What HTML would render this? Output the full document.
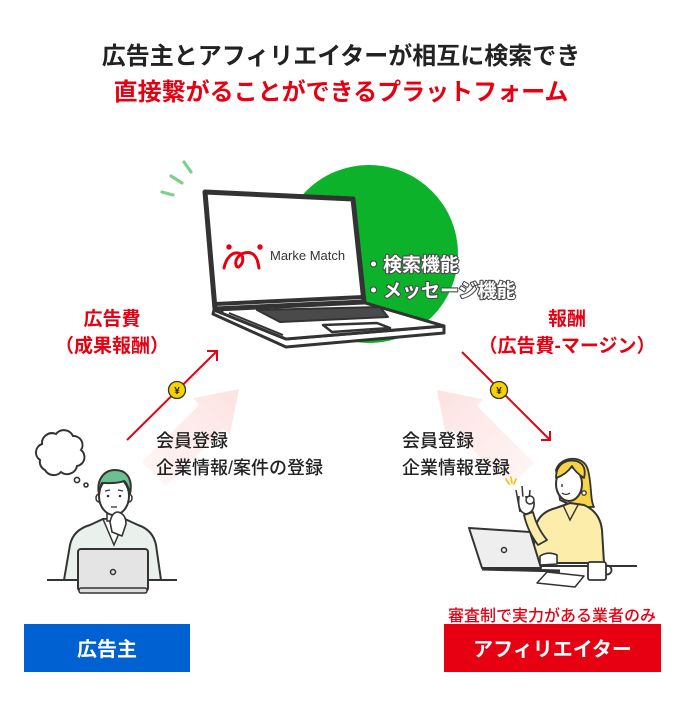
<!DOCTYPE html>
<html><head><meta charset="utf-8">
<style>
html,body{margin:0;padding:0;background:#fff;}
svg{display:block;}
text{font-family:"Liberation Sans","Noto Sans CJK JP",sans-serif;}
</style></head>
<body>
<svg width="686" height="712" viewBox="0 0 686 712" xmlns="http://www.w3.org/2000/svg">
<defs>
  <linearGradient id="gl" gradientUnits="userSpaceOnUse" x1="154" y1="474" x2="239" y2="389">
    <stop offset="0" stop-color="#fff4f4"/><stop offset="1" stop-color="#fde2e2"/>
  </linearGradient>
  <linearGradient id="gr" gradientUnits="userSpaceOnUse" x1="522" y1="475" x2="437" y2="390">
    <stop offset="0" stop-color="#fff4f4"/><stop offset="1" stop-color="#fde2e2"/>
  </linearGradient>
</defs>

<!-- Title -->
<text x="341" y="64" font-size="24" font-weight="700" fill="#222" text-anchor="middle">広告主とアフィリエイターが相互に検索でき</text>
<text x="341" y="100" font-size="24" font-weight="700" fill="#e60012" text-anchor="middle">直接繋がることができるプラットフォーム</text>

<!-- green accent strokes -->
<g stroke="#7dcf8e" stroke-width="3.2" stroke-linecap="round">
  <line x1="184" y1="162" x2="191" y2="172"/>
  <line x1="171" y1="176" x2="182" y2="183"/>
  <line x1="162" y1="192" x2="173" y2="195"/>
</g>

<!-- green circle -->
<circle cx="369" cy="254" r="89" fill="#0db22b"/>

<!-- Laptop base -->
<path d="M214,310 L286,339 L444,326 L444,333 L286,347 L213,314 Z" fill="#fff" stroke="#333" stroke-width="3" stroke-linejoin="round"/>
<path d="M214,310 L362,302 L444,326 L286,339 Z" fill="#fff" stroke="#333" stroke-width="3" stroke-linejoin="round"/>
<line x1="229" y1="313" x2="283" y2="335" stroke="#333" stroke-width="2"/>
<circle cx="222" cy="312" r="1.5" fill="#333"/>
<path d="M257,310 L380,307 L388,317 L280,322 Z" fill="#4a4a4a" stroke="#333" stroke-width="2" stroke-linejoin="round"/>
<path d="M323,325 L377,323 L390,328 L332,332 Z" fill="#fff" stroke="#333" stroke-width="2.5" stroke-linejoin="round"/>
<!-- Laptop screen -->
<path d="M205,192 L353,199 L364,302 L215,309 Z" fill="#fff" stroke="#333" stroke-width="5" stroke-linejoin="round"/>
<line x1="215" y1="304" x2="363" y2="297" stroke="#333" stroke-width="4"/>

<!-- logo -->
<circle cx="229" cy="247" r="2.7" fill="#e60012"/>
<circle cx="260" cy="247" r="2.7" fill="#e60012"/>
<path d="M224,268 C226,258 232,252 238,253 C244,254 244,262 240,266 C236,270 234,262 238,257 C242,252 250,251 254,255 C258,259 258,264 259,268" fill="none" stroke="#e60012" stroke-width="3" stroke-linecap="round"/>
<text x="270" y="260" font-size="13" fill="#333" font-family="Liberation Sans, sans-serif">Marke Match</text>

<!-- features -->
<g font-size="19" font-weight="700" fill="#fff" stroke="#4a4a4a" stroke-width="2.2" paint-order="stroke" stroke-linejoin="round">
  <text x="364" y="271">・検索機能</text>
  <text x="364" y="297">・メッセージ機能</text>
</g>

<!-- pink arrows -->
<polygon points="239,389 229.8,435 223.4,428.6 166,486 142,462 199.4,404.6 193,398.2" fill="url(#gl)"/>
<polygon points="437,390 483,399.2 476.6,405.6 534,463 510,487 452.6,429.6 446.2,436" fill="url(#gr)"/>

<!-- red labels -->
<g font-size="19" font-weight="700" fill="#e60012" text-anchor="middle">
  <text x="112" y="325">広告費</text>
  <text x="112" y="352">（成果報酬）</text>
  <text x="567" y="325">報酬</text>
  <text x="567" y="352">（広告費-マージン）</text>
</g>

<!-- red arrows -->
<g stroke="#e60012" stroke-width="2" fill="none">
  <line x1="127" y1="440" x2="217" y2="351"/>
  <polyline points="207,351 217,351 217,361"/>
  <line x1="462" y1="352" x2="550" y2="440"/>
  <polyline points="541,440 550,440 550,431"/>
</g>

<!-- coins -->
<g>
  <circle cx="177" cy="390" r="8.5" fill="#f6d200" stroke="#333" stroke-width="1.3"/>
  <text x="177" y="394" font-size="10" font-weight="700" fill="#222" text-anchor="middle">¥</text>
  <circle cx="499" cy="390" r="8.5" fill="#f6d200" stroke="#333" stroke-width="1.3"/>
  <text x="499" y="394" font-size="10" font-weight="700" fill="#222" text-anchor="middle">¥</text>
</g>

<!-- side texts -->
<g font-size="18" font-weight="500" fill="#222">
  <text x="156" y="447">会員登録</text>
  <text x="156" y="474">企業情報/案件の登録</text>
  <text x="402" y="447">会員登録</text>
  <text x="402" y="474">企業情報登録</text>
</g>

<!-- Man -->
<path d="M40,460 a9,9 0 0 1 2,-16 a10,10 0 0 1 14,-10 a10,10 0 0 1 17,2 a9,9 0 0 1 8,14 a9,9 0 0 1 -4,16 a10,10 0 0 1 -16,6 a10,10 0 0 1 -16,-2 a9,9 0 0 1 -5,-10 z" fill="#fff" stroke="#333" stroke-width="2"/>
<circle cx="77" cy="480" r="2.6" fill="#fff" stroke="#333" stroke-width="1.6"/>
<circle cx="86" cy="485" r="2" fill="#fff" stroke="#333" stroke-width="1.6"/>
<path d="M64,580 L70,545 Q73,530 90,525 L103,519 L125,519 L138,525 Q153,530 156,545 L161,580 Z" fill="#eaf0eb" stroke="#333" stroke-width="2" stroke-linejoin="round"/>
<path d="M103,519 L114,545 L125,519 Z" fill="#fff" stroke="#333" stroke-width="1.5"/>
<rect x="107" y="507" width="14" height="14" fill="#fff" stroke="#333" stroke-width="1.5"/>
<ellipse cx="99" cy="498" rx="3" ry="4" fill="#fff" stroke="#333" stroke-width="1.5"/>
<ellipse cx="129" cy="498" rx="3" ry="4" fill="#fff" stroke="#333" stroke-width="1.5"/>
<ellipse cx="114" cy="496" rx="15" ry="19" fill="#fff" stroke="#333" stroke-width="2"/>
<path d="M99,494 C96,480 104,470 115,470 C127,470 133,479 130,494 C128,486 126,482 124,481 C117,484 106,483 102,483 C100,486 100,490 99,494 Z" fill="#6cbf8e" stroke="#333" stroke-width="2" stroke-linejoin="round"/>
<circle cx="108" cy="496" r="1.3" fill="#333"/>
<circle cx="120" cy="496" r="1.3" fill="#333"/>
<line x1="105" y1="491" x2="110" y2="490" stroke="#333" stroke-width="1.2"/>
<line x1="118" y1="490" x2="123" y2="491" stroke="#333" stroke-width="1.2"/>
<line x1="111" y1="507" x2="117" y2="507" stroke="#333" stroke-width="1.3"/>
<path d="M110,522 Q112,512 118,512 Q126,514 126,524 L122,536 L112,532 Z" fill="#fff" stroke="#333" stroke-width="1.6" stroke-linejoin="round"/>
<line x1="47" y1="580" x2="177" y2="580" stroke="#333" stroke-width="2"/>
<rect x="78" y="549" width="70" height="42" rx="3" fill="#e4e4e4" stroke="#333" stroke-width="2"/>
<rect x="79" y="588" width="68" height="5" rx="2" fill="#ddd" stroke="#333" stroke-width="1.5"/>
<circle cx="113" cy="572" r="2.5" fill="none" stroke="#333" stroke-width="1.5"/>

<!-- Woman -->
<g stroke="#f2c400" stroke-width="1.6" stroke-linecap="round">
  <line x1="506" y1="479" x2="509" y2="484"/>
  <line x1="511" y1="477" x2="512" y2="483"/>
  <line x1="516" y1="479" x2="514" y2="484"/>
</g>
<path d="M556,470 C560,456 584,454 588,470 C592,485 590,500 594,507 L575,507 L560,500 Z" fill="#f7d447" stroke="#333" stroke-width="1.8" stroke-linejoin="round"/>
<path d="M532,563 L536,525 Q540,512 556,508 L570,503 L584,505 Q600,512 602,530 L604,563 Z" fill="#fcedaa" stroke="#333" stroke-width="2" stroke-linejoin="round"/>
<path d="M563,505 L570,520 L578,505" fill="none" stroke="#333" stroke-width="1.4"/>
<ellipse cx="569" cy="484" rx="13" ry="17" fill="#fff" stroke="#333" stroke-width="2"/>
<path d="M556,478 C556,464 566,459 576,461 C584,463 586,470 584,478 C578,474 574,470 572,466 C568,472 562,476 556,478 Z" fill="#f7d447" stroke="#333" stroke-width="1.8" stroke-linejoin="round"/>
<circle cx="584" cy="493" r="2.2" fill="#fff" stroke="#333" stroke-width="1.3"/>
<line x1="562" y1="484" x2="562" y2="487" stroke="#333" stroke-width="1.4"/>
<path d="M562,493 Q566,496 570,493" fill="none" stroke="#333" stroke-width="1.3"/>
<path d="M538,545 Q528,532 524,515 L533,512 Q537,528 547,540 Z" fill="#fcedaa" stroke="#333" stroke-width="1.8" stroke-linejoin="round"/>
<path d="M520,512 L516,490 M524,510 L522,486 M528,511 L530,490" stroke="#333" stroke-width="1.5" fill="none"/>
<path d="M519,496 Q517,512 526,514 Q535,512 534,502 Q531,496 525,497" fill="#fff" stroke="#333" stroke-width="1.6"/>
<circle cx="530" cy="500" r="4" fill="#fff" stroke="#333" stroke-width="1.5"/>
<line x1="536" y1="566" x2="637" y2="566" stroke="#333" stroke-width="2"/>
<polygon points="469,528 530,532 541,568 482,568" fill="#eee" stroke="#333" stroke-width="2" stroke-linejoin="round"/>
<circle cx="504" cy="550" r="2.5" fill="none" stroke="#333" stroke-width="1.5"/>
<line x1="482" y1="569" x2="560" y2="571" stroke="#333" stroke-width="3"/>
<path d="M540,556 Q548,551 557,555 L557,564 L540,565 Z" fill="#fff" stroke="#333" stroke-width="1.6" stroke-linejoin="round"/>
<polygon points="547,572 584,576 575,587 537,583" fill="#fff" stroke="#333" stroke-width="1.5" stroke-linejoin="round"/>
<circle cx="607" cy="570" r="4.5" fill="none" stroke="#333" stroke-width="1.8"/>
<rect x="588" y="562" width="18" height="18" rx="2" fill="#fff" stroke="#333" stroke-width="1.8"/>

<!-- bottom -->
<text x="552" y="621" font-size="16" font-weight="500" fill="#e60012" text-anchor="middle">審査制で実力がある業者のみ</text>
<rect x="24" y="624" width="166" height="48" fill="#0062d2"/>
<text x="107" y="656" font-size="20" font-weight="700" fill="#fff" text-anchor="middle">広告主</text>
<rect x="444" y="624" width="217" height="48" fill="#e60012"/>
<text x="552.5" y="656" font-size="20" font-weight="700" fill="#fff" text-anchor="middle">アフィリエイター</text>
</svg>
</body></html>
